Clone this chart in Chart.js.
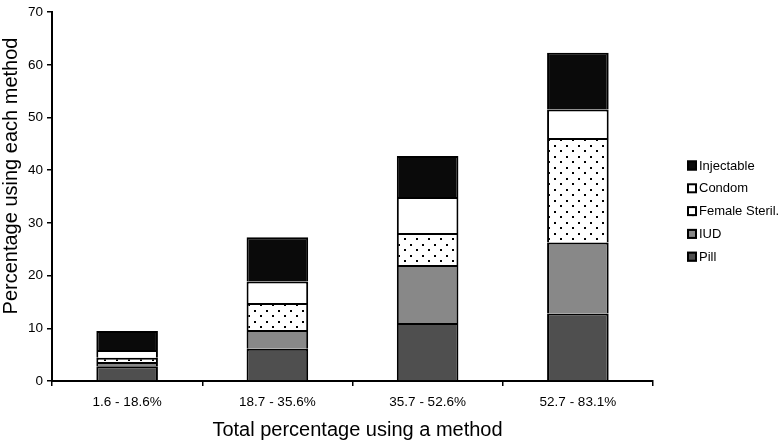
<!DOCTYPE html>
<html>
<head>
<meta charset="utf-8">
<script src="https://cdn.jsdelivr.net/npm/chart.js@4/dist/chart.umd.min.js"></script>
<style>
html,body{margin:0;padding:0;background:#fff;}
#c{display:block;}
</style>
</head>
<body>
<canvas id="c" width="780" height="440"></canvas>
<script>
const categories = ['1.6 - 18.6%', '18.7 - 35.6%', '35.7 - 52.6%', '52.7 - 83.1%'];
const pill       = [2.8, 6.1, 11.0, 12.8];
const iud        = [0.8, 3.6, 11.0, 13.5];
const fsteril    = [0.8, 5.1, 6.1, 19.8];
const condom     = [1.5, 4.1, 6.8, 5.4];
const injectable = [3.6, 8.4, 7.8, 10.8];
const seriesNames = ['Pill', 'IUD', 'Female Steril.', 'Condom', 'Injectable'];
const xTitle = 'Total percentage using a method';
const yTitle = 'Percentage using each method';

const FONT = '"Liberation Sans", Arial, Helvetica, sans-serif';

// dotted pattern
const pc = document.createElement('canvas');
pc.width = 12; pc.height = 11;
const pctx = pc.getContext('2d');
pctx.fillStyle = '#ffffff';
pctx.fillRect(0, 0, 12, 11);
pctx.fillStyle = '#000000';
pctx.fillRect(2, 2, 2, 2);
pctx.fillRect(8, 7, 2, 2);
const dotPattern = pctx.createPattern(pc, 'repeat');

const fills = ['#4f4f4f', '#888888', dotPattern, '#ffffff', '#0a0a0a'];
const seriesData = [pill, iud, fsteril, condom, injectable];

const datasets = seriesNames.map((name, i) => ({
  label: name,
  data: seriesData[i],
  backgroundColor: fills[i],
  borderColor: '#000000',
  borderWidth: 2,
  borderSkipped: 'start'
}));

const overlay = {
  id: 'overlay',
  afterDraw(chart) {
    const ctx = chart.ctx;
    const area = chart.chartArea;
    ctx.save();
    ctx.fillStyle = '#000';
    // x title
    ctx.font = '20px ' + FONT;
    ctx.textAlign = 'center';
    ctx.textBaseline = 'alphabetic';
    ctx.fillText(xTitle, (area.left + area.right) / 2 + 5, 436);
    // y title
    ctx.save();
    ctx.translate(17, 176);
    ctx.rotate(-Math.PI / 2);
    ctx.fillText(yTitle, 0, 0);
    ctx.restore();
    // legend (reverse order)
    ctx.font = '13px ' + FONT;
    ctx.textAlign = 'left';
    ctx.textBaseline = 'middle';
    const order = [4, 3, 2, 1, 0];
    order.forEach((si, k) => {
      const cy = 165.5 + k * 22.8;
      const bx = 687, by = cy - 5;
      ctx.fillStyle = fills[si];
      ctx.fillRect(bx, by, 10, 10);
      ctx.strokeStyle = '#000';
      ctx.lineWidth = 2;
      ctx.strokeRect(bx + 1, by + 1, 8, 8);
      ctx.fillStyle = '#000';
      ctx.fillText(seriesNames[si], 699, cy + 0.5);
    });
    ctx.restore();
  }
};

new Chart(document.getElementById('c'), {
  type: 'bar',
  data: { labels: categories, datasets },
  options: {
    responsive: false,
    animation: false,
    devicePixelRatio: 1,
    layout: { padding: { top: 7, right: 127, bottom: 0, left: 0 } },
    plugins: { legend: { display: false }, tooltip: { enabled: false } },
    datasets: { bar: { barPercentage: 0.41, categoryPercentage: 1.0 } },
    scales: {
      x: {
        stacked: true,
        afterFit(s) { s.height = 59; },
        grid: { display: true, drawOnChartArea: false, offset: true, tickLength: 5, color: '#000', lineWidth: 1.5 },
        border: { display: true, color: '#000', width: 2 },
        ticks: { color: '#000', font: { family: FONT, size: 13.5 }, padding: 8, maxRotation: 0 }
      },
      y: {
        stacked: true,
        min: 0, max: 70,
        afterFit(s) { s.width = 52; },
        grid: { display: true, drawOnChartArea: false, tickLength: 5, color: '#000', lineWidth: 1.5 },
        border: { display: true, color: '#000', width: 2 },
        ticks: { stepSize: 10, color: '#000', font: { family: FONT, size: 13.5 }, padding: 4 }
      }
    }
  },
  plugins: [overlay]
});
</script>
</body>
</html>
